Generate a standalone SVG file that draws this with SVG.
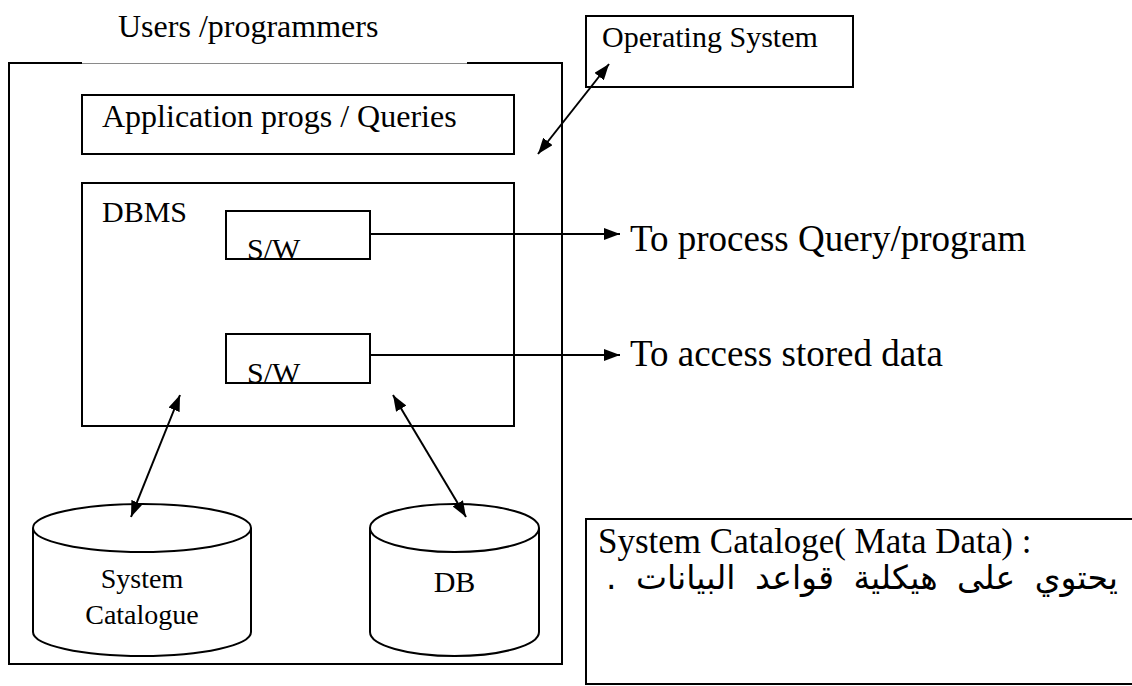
<svg xmlns="http://www.w3.org/2000/svg" width="1132" height="686" viewBox="0 0 1132 686">
  <style>
    .box { fill: #fff; stroke: #000; stroke-width: 2; }
    .edge { fill: none; stroke: #000; stroke-width: 2; }
    .thin { fill: none; stroke: #8a8a8a; stroke-width: 1; }
    .link { fill: none; stroke: #000; stroke-width: 2; }
    .t { font-family: "Liberation Serif", "Times New Roman", serif; fill: #000; }
    .ar { font-family: "DejaVu Sans", sans-serif; fill: #000; }
  </style>
  <defs>
    <marker id="head" viewBox="0 0 16 12" refX="16" refY="6" markerWidth="16" markerHeight="12" markerUnits="userSpaceOnUse" orient="auto-start-reverse">
      <path d="M0,0 L16,6 L0,12 Z" fill="#000"/>
    </marker>
    <clipPath id="clipSw1"><rect x="227" y="212" width="142" height="46"/></clipPath>
    <clipPath id="clipSw2"><rect x="227" y="335" width="142" height="47"/></clipPath>
  </defs>

  <!-- caption above the system boundary -->
  <text class="t" x="118" y="37" font-size="32">Users /programmers</text>

  <!-- system boundary: top edge is thin where the caption sits -->
  <g id="system">
    <path class="edge" d="M82,63 H9 V664 H562 V63 H467"/>
    <path class="thin" d="M82,63.5 H467"/>
  </g>

  <g id="app">
    <rect class="box" x="82" y="95" width="432" height="59"/>
    <text class="t" x="102" y="127" font-size="32">Application progs / Queries</text>
  </g>

  <g id="os">
    <rect class="box" x="586" y="16" width="267" height="71"/>
    <text class="t" x="602" y="47" font-size="30">Operating System</text>
  </g>

  <g id="dbms">
    <rect class="box" x="82" y="183" width="432" height="243"/>
    <text class="t" x="102" y="222" font-size="30">DBMS</text>
  </g>

  <g id="sw1">
    <rect class="box" x="226" y="211" width="144" height="48"/>
    <text class="t" x="247" y="259" font-size="30" clip-path="url(#clipSw1)">S/W</text>
  </g>

  <g id="sw2">
    <rect class="box" x="226" y="334" width="144" height="49"/>
    <text class="t" x="247" y="383" font-size="30" clip-path="url(#clipSw2)">S/W</text>
  </g>

  <g id="catalogue">
    <path class="box" d="M33,528 V632 A109,24 0 0 0 251,632 V528"/>
    <ellipse class="box" cx="142" cy="528" rx="109" ry="24"/>
    <text class="t" x="142" y="588" font-size="28" text-anchor="middle">System</text>
    <text class="t" x="142" y="624" font-size="28" text-anchor="middle">Catalogue</text>
  </g>

  <g id="db">
    <path class="box" d="M370,528 V632 A84.5,24 0 0 0 539,632 V528"/>
    <ellipse class="box" cx="454.5" cy="528" rx="84.5" ry="24"/>
    <text class="t" x="454.5" y="592" font-size="30" text-anchor="middle">DB</text>
  </g>

  <g id="note">
    <path class="edge" d="M1133,519 H586 V684 H1133"/>
    <text class="t" x="598" y="553" font-size="35">System Cataloge( Mata Data) :</text>
    <text class="ar" x="1118" y="589" font-size="33" word-spacing="9" direction="rtl" text-anchor="start">يحتوي على هيكلية قواعد البيانات .</text>
  </g>

  <g id="labels">
    <text class="t" x="630" y="251" font-size="37">To process Query/program</text>
    <text class="t" x="630" y="366" font-size="37">To access stored data</text>
  </g>

  <g id="connectors">
    <line class="link" x1="538" y1="154" x2="609" y2="64" marker-start="url(#head)" marker-end="url(#head)"/>
    <line class="link" x1="370" y1="234" x2="620" y2="234" marker-end="url(#head)"/>
    <line class="link" x1="370" y1="355" x2="620" y2="355" marker-end="url(#head)"/>
    <line class="link" x1="180" y1="395" x2="131" y2="517" marker-start="url(#head)" marker-end="url(#head)"/>
    <line class="link" x1="393" y1="395" x2="466" y2="517" marker-start="url(#head)" marker-end="url(#head)"/>
  </g>
</svg>
